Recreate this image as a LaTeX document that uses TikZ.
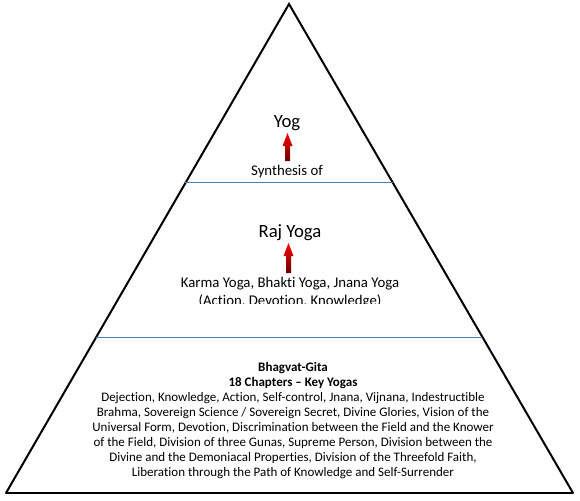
\documentclass[tikz,border=0pt]{standalone}
\usepackage{fontspec}
\setmainfont{Carlito}[Ligatures=NoCommon]
\usetikzlibrary{calc}
\definecolor{tierblue}{RGB}{74,126,187}
\definecolor{darkred}{RGB}{105,0,0}
\begin{document}
\begin{tikzpicture}[x=1pt, y=-1pt,
  edge/.style={line width=2pt, line cap=round},
  tier/.style={draw=tierblue, line width=1pt},
  label/.style={inner sep=0pt, anchor=base},
  big/.style={font=\fontsize{18.7}{22}\selectfont},
  small/.style={font=\fontsize{14.8}{18}\selectfont},
  uparrow/.style={top color=red, bottom color=darkred}]
  \useasboundingbox (0,0) rectangle (580,500);
  % pyramid
  \coordinate (apex) at (289,4);
  \coordinate (bl) at (6,493);
  \coordinate (br) at (573,493);
  \draw[edge, line join=miter] (bl) -- (apex) -- (br);
  \draw[line width=2.8pt] (bl) -- (br);
  \coordinate (t1l) at ($(apex)!0.366!(bl)$);
  \coordinate (t1r) at ($(apex)!0.366!(br)$);
  \coordinate (t2l) at ($(apex)!0.681!(bl)$);
  \coordinate (t2r) at ($(apex)!0.681!(br)$);
  \draw[tier] (t1l) -- (t1r);
  \draw[tier] (t2l) -- (t2r);
  % top tier
  \node[label, big] (yog) at (287,127) {Yog};
  \shade[uparrow] (287.5,133) -- (292.5,146) -- (290,146) -- (290,161)
    -- (285,161) -- (285,146) -- (282.5,146) -- cycle;
  \node[label, small] (synth) at (287,175) {Synthesis of};
  % middle tier
  \node[label, big] (raj) at (290,237) {Raj Yoga};
  \shade[uparrow] (288.5,243) -- (293.5,256) -- (291,256) -- (291,273)
    -- (286,273) -- (286,256) -- (283.5,256) -- cycle;
  \begin{scope}
    \clip (0,0) rectangle (580,303.5);
    \node[label, small] (paths) at (290,287) {Karma Yoga, Bhakti Yoga, Jnana Yoga};
    \node[label, small] (meaning) at (290,305.5) {(Action, Devotion, Knowledge)};
  \end{scope}
  % bottom tier
  \node[inner sep=0pt, anchor=north, align=center,
    font=\fontsize{13}{15}\selectfont] (gita) at (293,362)
    {\textbf{Bhagvat-Gita}\\
     \textbf{18 Chapters – Key Yogas}\\
     Dejection, Knowledge, Action, Self-control, Jnana, Vijnana, Indestructible\\
     Brahma, Sovereign Science / Sovereign Secret, Divine Glories, Vision of the\\
     Universal Form, Devotion, Discrimination between the Field and the Knower\\
     of the Field, Division of three Gunas, Supreme Person, Division between the\\
     Divine and the Demoniacal Properties, Division of the Threefold Faith,\\
     Liberation through the Path of Knowledge and Self-Surrender};
\end{tikzpicture}
\end{document}
